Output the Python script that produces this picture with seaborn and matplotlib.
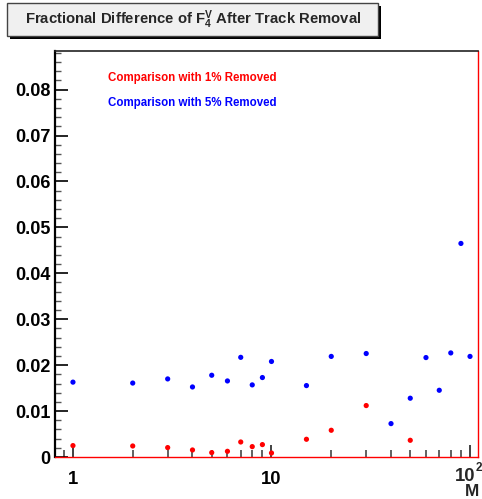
import numpy as np
import pandas as pd
import matplotlib
matplotlib.use("Agg")
import matplotlib.pyplot as plt
import seaborn as sns
from matplotlib.patches import Rectangle
from matplotlib.ticker import FixedLocator, FixedFormatter, NullFormatter

# ---- data ----
m_red = [1, 2, 3, 4, 5, 6, 7, 8, 9, 10, 15, 20, 30, 50]
diff_red = [0.00248, 0.0024, 0.00205, 0.00153, 0.00096, 0.00124, 0.00327,
            0.00226, 0.0027, 0.00087, 0.00386, 0.00582, 0.0112, 0.00364]
m_blue = [1, 2, 3, 4, 5, 6, 7, 8, 9, 10, 15, 20, 30, 40, 50, 60, 70, 80, 90, 100]
diff_blue = [0.0163, 0.0161, 0.0170, 0.01525, 0.0178, 0.01656, 0.0217, 0.0157,
             0.0173, 0.0208, 0.01555, 0.0219, 0.02253, 0.00727, 0.0128, 0.02165,
             0.01453, 0.02266, 0.0465, 0.0219]
label_red = "Comparison with 1% Removed"
label_blue = "Comparison with 5% Removed"
title = r"Fractional Difference of $\mathbf{F_4^V}$ After Track Removal"
xtick_vals = [1, 10, 100]
xtick_labels = ["1", "10", ""]
last_tick_base = "10"
last_tick_exponent = "2"
ytick_vals = [0, 0.01, 0.02, 0.03, 0.04, 0.05, 0.06, 0.07, 0.08]
ytick_labels = ["0", "0.01", "0.02", "0.03", "0.04", "0.05", "0.06", "0.07", "0.08"]

df = pd.concat([
    pd.DataFrame({"M": m_red, "diff": diff_red, "set": "red"}),
    pd.DataFrame({"M": m_blue, "diff": diff_blue, "set": "blue"}),
])

sns.set_style("white")
plt.rcParams["font.family"] = ["Liberation Sans", "DejaVu Sans"]
plt.rcParams["mathtext.fontset"] = "custom"
plt.rcParams["mathtext.rm"] = "Liberation Sans:bold"
plt.rcParams["mathtext.it"] = "Liberation Sans:bold"
plt.rcParams["mathtext.bf"] = "Liberation Sans:bold"

W, H = 482, 499
fig = plt.figure(figsize=(W / 100, H / 100), dpi=100)
ax = fig.add_axes([55 / W, 1 - 457 / H, (478 - 55) / W, (457 - 51) / H])

sns.scatterplot(data=df, x="M", y="diff", hue="set",
                palette={"red": "#ff0000", "blue": "#0000ff"},
                s=14, linewidth=0, legend=False, ax=ax, zorder=3)

ax.set_xscale("log")
ax.set_xlim(0.812, 109.7)
ax.set_ylim(0, 0.0884)
ax.set_xlabel("")
ax.set_ylabel("")

ax.xaxis.set_major_locator(FixedLocator(xtick_vals))
ax.xaxis.set_major_formatter(FixedFormatter(xtick_labels))
minor_x = [0.9] + [k for k in range(2, 10)] + [10 * k for k in range(2, 10)]
ax.xaxis.set_minor_locator(FixedLocator(minor_x))
ax.xaxis.set_minor_formatter(NullFormatter())
ax.yaxis.set_major_locator(FixedLocator(ytick_vals))
ax.yaxis.set_major_formatter(FixedFormatter(ytick_labels))
ax.yaxis.set_minor_locator(FixedLocator(np.arange(0, 0.0885, 0.002)))

ax.tick_params(axis="both", which="both", direction="in", bottom=True, left=True,
               top=False, right=False, colors="black")
ax.tick_params(axis="x", which="major", length=9, width=1.3, pad=10,
               labelsize=13.3, color="#333333")
ax.tick_params(axis="x", which="minor", length=5, width=1.3, color="#555555")
ax.tick_params(axis="y", which="major", length=9, width=1.2, pad=3, labelsize=13)
ax.tick_params(axis="y", which="minor", length=4.5, width=1.0, color="#555555")
for lab in ax.get_xticklabels() + ax.get_yticklabels():
    lab.set_fontweight("bold")

ax.spines["left"].set_color("black")
ax.spines["left"].set_linewidth(1.6)
ax.spines["top"].set_color("#222222")
ax.spines["top"].set_linewidth(1.2)
ax.spines["right"].set_color("#ff0000")
ax.spines["right"].set_linewidth(1.0)
ax.spines["bottom"].set_color("#ff0000")
ax.spines["bottom"].set_linewidth(1.0)
for sp in ax.spines.values():
    sp.set_visible(True)
    sp.set_zorder(4)

# label of the 10^2 tick, shifted left as in the reference
fig.text(465.5 / W, 1 - 481 / H, last_tick_base, fontsize=13.3, fontweight="bold",
         ha="center", va="baseline")
fig.text(482 / W, 1 - 471 / H, last_tick_exponent, fontsize=8.5, fontweight="bold",
         ha="right", va="baseline")

# title box with shadow
bx0, by0, bx1, by1 = 7, 3, 378, 36
fig.patches.append(Rectangle(((bx0 + 3) / W, 1 - (by1 + 3) / H), (bx1 - bx0) / W,
                             (by1 - by0) / H, transform=fig.transFigure,
                             facecolor="black", edgecolor="none", zorder=1))
fig.patches.append(Rectangle((bx0 / W, 1 - by1 / H), (bx1 - bx0) / W,
                             (by1 - by0) / H, transform=fig.transFigure,
                             facecolor="#f0f0f0", edgecolor="#444444",
                             linewidth=1.0, zorder=2))
fig.text((bx0 + bx1) / 2 / W + 1 / W, 1 - 20 / H, title, ha="center", va="center",
         fontsize=10.7, fontweight="bold", zorder=3)

fig.text(108 / W, 1 - 78 / H, label_red, color="#ff0000", fontsize=8.3,
         fontweight="bold", va="center", ha="left")
fig.text(108 / W, 1 - 103 / H, label_blue, color="#0000ff", fontsize=8.3,
         fontweight="bold", va="center", ha="left")

fig.text(472.5 / W, 0.3 / H, "M", fontsize=12.3, fontweight="bold",
         ha="center", va="bottom")

fig.savefig("out.png", dpi=100)
